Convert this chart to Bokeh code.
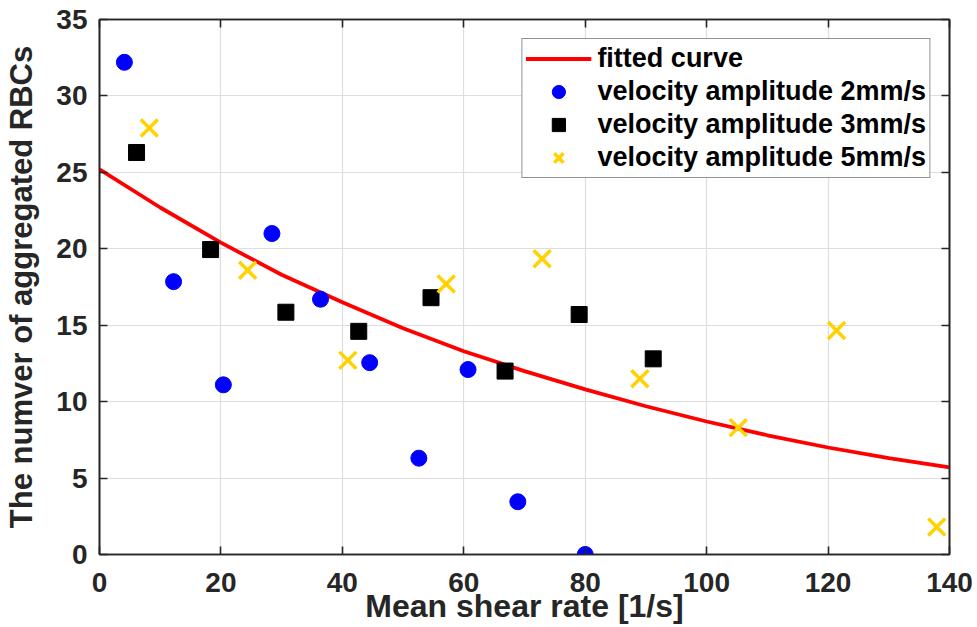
from bokeh.plotting import figure
from bokeh.models import Range1d, FixedTicker, LinearAxis, Legend, LegendItem, CustomJSTickFormatter
from bokeh.embed import file_html
from bokeh.resources import INLINE

x_ticks = [0, 20, 40, 60, 80, 100, 120, 140]
y_ticks = [0, 5, 10, 15, 20, 25, 30, 35]

# fitted curve
curve_x = [0, 10, 20, 30, 40, 50, 60, 70, 80, 90, 100, 110, 120, 130, 140]
curve_y = [25.2, 22.7, 20.4, 18.3, 16.5, 14.8, 13.3, 12.0, 10.8, 9.7, 8.7, 7.8, 7.0, 6.3, 5.7]

v2_x = [4.1, 12.2, 20.4, 28.4, 36.4, 44.5, 52.6, 60.7, 68.9, 80.0]
v2_y = [32.2, 17.85, 11.1, 21.0, 16.7, 12.55, 6.3, 12.1, 3.45, 0.0]
v3_x = [6.1, 18.3, 30.7, 42.7, 54.6, 66.8, 79.0, 91.2]
v3_y = [26.3, 19.95, 15.85, 14.6, 16.8, 12.0, 15.7, 12.8]
v5_x = [8.2, 24.4, 40.9, 57.1, 72.9, 89.0, 105.2, 121.4, 137.9]
v5_y = [27.9, 18.6, 12.7, 17.7, 19.35, 11.5, 8.3, 14.65, 1.8]

labels = ["fitted curve", "velocity amplitude 2mm/s",
          "velocity amplitude 3mm/s", "velocity amplitude 5mm/s"]

FONT = "Liberation Sans"
AX = "#262626"

p = figure(width=977, height=627, output_backend="svg", toolbar_location=None,
           x_range=Range1d(0, 140), y_range=Range1d(0, 35),
           min_border_left=99, min_border_right=28, min_border_top=19,
           min_border_bottom=73)
p.outline_line_color = AX
p.outline_line_width = 1.6
p.background_fill_color = "white"
p.border_fill_color = "white"

for ax in (p.xaxis[0], p.yaxis[0]):
    ax.major_tick_in = 8
    ax.major_tick_out = 0
    ax.minor_tick_in = 0
    ax.minor_tick_out = 0
    ax.axis_line_color = AX
    ax.axis_line_width = 1.6
    ax.major_tick_line_color = AX
    ax.major_tick_line_width = 1.6
    ax.major_label_text_font = FONT
    ax.major_label_text_font_style = "bold"
    ax.major_label_text_font_size = "28px"
    ax.major_label_text_color = AX
    ax.axis_label_text_font = FONT
    ax.axis_label_text_font_style = "bold"
    ax.axis_label_text_color = AX

p.xaxis[0].ticker = FixedTicker(ticks=x_ticks)
p.yaxis[0].ticker = FixedTicker(ticks=y_ticks)
p.xaxis[0].axis_label = "Mean shear rate [1/s]"
p.yaxis[0].axis_label = "The numver of aggregated RBCs"
p.xaxis[0].axis_label_text_font_size = "32px"
p.yaxis[0].axis_label_text_font_size = "31px"
p.xaxis[0].major_label_standoff = 18
p.yaxis[0].major_label_standoff = 12
p.xaxis[0].axis_label_standoff = -7
p.yaxis[0].axis_label_standoff = 14

blank = CustomJSTickFormatter(code="return ''")
top = LinearAxis(ticker=FixedTicker(ticks=x_ticks), formatter=blank, major_tick_in=8, major_tick_out=0,
                 minor_tick_in=0, minor_tick_out=0, major_label_standoff=0,
                 axis_line_color=AX, axis_line_width=1.6,
                 major_tick_line_color=AX, major_tick_line_width=1.6)
right = LinearAxis(ticker=FixedTicker(ticks=y_ticks), formatter=blank, major_tick_in=8, major_tick_out=0,
                   minor_tick_in=0, minor_tick_out=0, major_label_standoff=0,
                   axis_line_color=AX, axis_line_width=1.6,
                   major_tick_line_color=AX, major_tick_line_width=1.6)
p.add_layout(top, "above")
p.add_layout(right, "right")

p.xgrid.ticker = FixedTicker(ticks=x_ticks)
p.ygrid.ticker = FixedTicker(ticks=y_ticks)
p.xgrid.grid_line_color = "#dedede"
p.ygrid.grid_line_color = "#dedede"
p.xgrid.grid_line_width = 1.2
p.ygrid.grid_line_width = 1.2

r_curve = p.line(curve_x, curve_y, line_color="#FF0000", line_width=3.8)
r2 = p.scatter(v2_x, v2_y, marker="circle", size=16,
               fill_color="#0000FF", line_color="#0000FF")
r3 = p.scatter(v3_x, v3_y, marker="square", size=16, fill_color="black",
               line_color="black")
r5 = p.scatter(v5_x, v5_y, marker="x", size=24, line_color="#FFD200", line_width=3.5)

legend = Legend(items=[LegendItem(label=labels[0], renderers=[r_curve]),
                       LegendItem(label=labels[1], renderers=[r2]),
                       LegendItem(label=labels[2], renderers=[r3]),
                       LegendItem(label=labels[3], renderers=[r5])],
                location="top_right", margin=19, padding=3, spacing=0,
                glyph_width=66, glyph_height=33, label_height=33, label_standoff=6,
                label_text_font=FONT, label_text_font_style="bold",
                label_text_font_size="27px", label_text_color="black",
                border_line_color="#262626", border_line_width=1.2,
                background_fill_color="white", background_fill_alpha=1.0)
p.add_layout(legend, "center")

open("out.html", "w").write(file_html(p, INLINE))
